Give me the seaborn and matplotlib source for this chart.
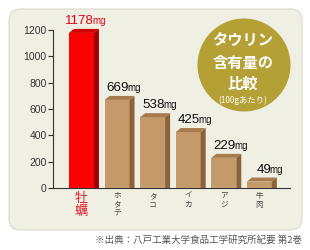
import matplotlib
matplotlib.use("Agg")
import matplotlib.pyplot as plt
import matplotlib.transforms as mtransforms
from matplotlib.patches import FancyBboxPatch, Circle, Polygon
import seaborn as sns
import pandas as pd

# ---- data ----
categories = ["牡蠣", "ホタテ", "タコ", "イカ", "アジ", "牛肉"]
values = [1178, 669, 538, 425, 229, 49]
yticks = [0, 200, 400, 600, 800, 1000, 1200]
title_lines = ["タウリン", "含有量の", "比較"]
subtitle = "(100gあたり)"
source = "※出典：八戸工業大学食品工学研究所紀要 第2巻"

sns.set_theme(style="white")
JP = ["Noto Sans CJK JP", "DejaVu Sans"]
NUM = ["Liberation Sans", "DejaVu Sans"]
plt.rcParams["font.family"] = JP

W, H = 310, 250
fig = plt.figure(figsize=(W / 100, H / 100), dpi=100)
fig.patch.set_facecolor("white")
ident = mtransforms.IdentityTransform()

# rounded beige panel (pixel coords, origin bottom-left)
panel = FancyBboxPatch((9, H - 230), 293, 221,
                       boxstyle="round,pad=0,rounding_size=11",
                       transform=ident, facecolor="#f0efe3",
                       edgecolor="#dcdacb", linewidth=0.8, zorder=-2)
fig.patches.append(panel)

# olive circle with title
circ = Circle((244, H - 65), 46.5, transform=ident, facecolor="#b4a034",
              edgecolor="none", zorder=-1)
fig.patches.append(circ)
ty = [40, 63, 84]
for line, yy in zip(title_lines, ty):
    fig.text(243 / W, 1 - yy / H, line, ha="center", va="center",
             fontsize=11, color="white", family=JP, weight="bold", zorder=5)
fig.text(243 / W, 1 - 100 / H, subtitle, ha="center", va="center",
         fontsize=6, color="white", family=JP, zorder=5)

# source
fig.text(302 / W, 1 - 240.5 / H, source, ha="right", va="center",
         fontsize=6.8, color="#555555", family=JP)

# ---- axes ----
ax = fig.add_axes([53 / W, (H - 188) / H, (290 - 53) / W, 158 / H])
ax.set_facecolor("none")
ax.set_zorder(1)
df = pd.DataFrame({"cat": categories, "val": values})
front_colors = ["#ff0000"] + ["#c49a6b"] * 5
sns.barplot(data=df, x="cat", y="val", hue="cat", palette=front_colors,
            legend=False, width=0.70, ax=ax, zorder=3, edgecolor="none",
            linewidth=0, saturation=1)
ax.set_xlim(-0.8, 5.86)
ax.set_ylim(0, 1200)

side_colors = ["#9c0000"] + ["#8c6239"] * 5
top_colors = ["#cc0000"] + ["#a87b4f"] * 5
# depth offsets (px -> data units)
px_x = (5.86 + 0.8) / (290 - 53)
px_y = 1200 / 158
dx, dy = 5 * px_x, 4 * px_y

for i, p in enumerate(ax.patches[:len(values)]):
    x0, w, h = p.get_x(), p.get_width(), p.get_height()
    x1 = x0 + w
    side = Polygon([(x1, 0), (x1 + dx, 0), (x1 + dx, h + dy), (x1, h)],
                   closed=True, facecolor=side_colors[i], edgecolor="none",
                   zorder=3, clip_on=False)
    top = Polygon([(x0, h), (x1, h), (x1 + dx, h + dy), (x0 + dx, h + dy)],
                  closed=True, facecolor=top_colors[i], edgecolor="none",
                  zorder=3, clip_on=False)
    ax.add_patch(side)
    ax.add_patch(top)
    cx = x0 + w / 2 + dx / 2
    col = "#e60012" if i == 0 else "#111111"
    ax.annotate(f"{values[i]}", (cx, h + dy), xytext=(9.5, 5),
                textcoords="offset pixels", ha="right", va="baseline",
                fontsize=9.6, color=col, family=NUM, annotation_clip=False)
    ax.annotate("mg", (cx, h + dy), xytext=(8, 5),
                textcoords="offset pixels", ha="left", va="baseline",
                fontsize=7, color=col, family=NUM, annotation_clip=False)

# axes styling
for s in ["top", "right"]:
    ax.spines[s].set_visible(False)
for s in ["left", "bottom"]:
    ax.spines[s].set_color("#333333")
    ax.spines[s].set_linewidth(0.8)
ax.set_yticks(yticks)
ax.set_yticklabels([str(v) for v in yticks], family=NUM, fontsize=7.5,
                   color="#333333")
ax.tick_params(axis="y", direction="out", length=3.5, width=0.8,
               color="#333333", pad=1, left=True)
ax.set_xticks(range(len(categories)))
ax.set_xticklabels([])
ax.tick_params(axis="x", length=0)
ax.set_xlabel("")
ax.set_ylabel("")
ax.grid(False)

# vertical category labels
for i, cat in enumerate(categories):
    p = ax.patches[i]
    cx = p.get_x() + p.get_width() / 2
    if i == 0:
        ax.annotate("\n".join(cat), (cx, 0), xytext=(0, -4),
                    textcoords="offset pixels", ha="center", va="top",
                    fontsize=9.5, color="#e0262e", family=JP,
                    linespacing=1.05, annotation_clip=False)
    else:
        ax.annotate("\n".join(cat), (cx, 0), xytext=(0, -4),
                    textcoords="offset pixels", ha="center", va="top",
                    fontsize=5.5, color="#444444", family=JP,
                    linespacing=1.1, annotation_clip=False)

fig.savefig("out.png", dpi=100, facecolor="white")
